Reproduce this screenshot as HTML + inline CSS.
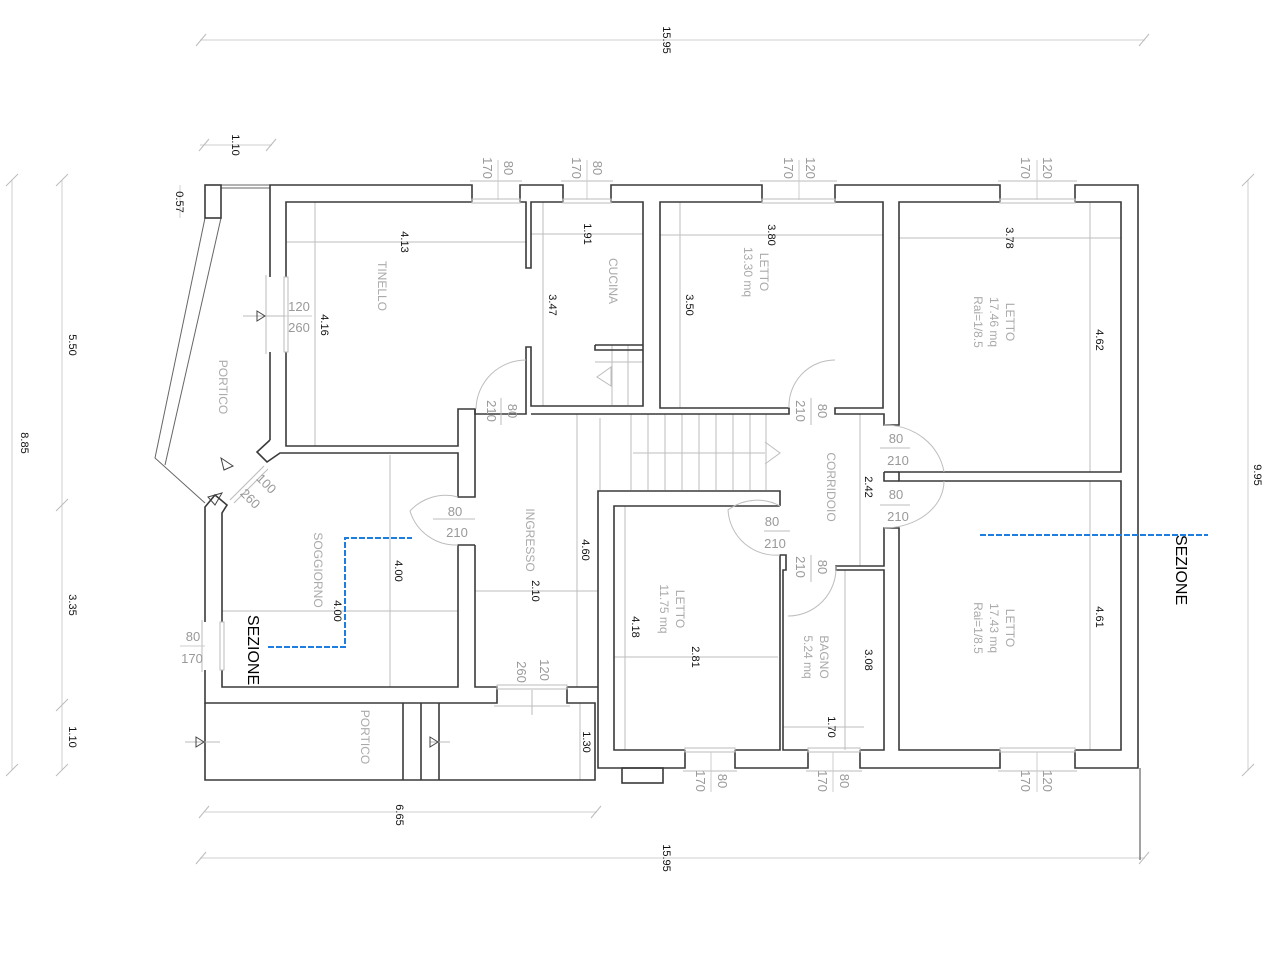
<!DOCTYPE html>
<html><head><meta charset="utf-8"><style>
html,body{margin:0;padding:0;background:#fff;}
svg{display:block;}
.w{fill:none;stroke:#3a3a3a;stroke-width:1.6;}
.d{fill:none;stroke:#cfcfcf;stroke-width:1;}
.g{fill:none;stroke:#bdbdbd;stroke-width:1;}
.dim{font-family:"Liberation Sans",sans-serif;font-size:11px;fill:#111;}
.lab{font-family:"Liberation Sans",sans-serif;font-size:12px;fill:#aaa;}
.dl{font-family:"Liberation Sans",sans-serif;font-size:13px;fill:#999;}
.sez{font-family:"Liberation Sans",sans-serif;font-size:16px;fill:#000;}
</style></head><body>
<svg width="1280" height="960" viewBox="0 0 1280 960" xmlns="http://www.w3.org/2000/svg">
<!-- overall dimension lines -->
<g class="d">
<line x1="200" y1="40" x2="1145" y2="40"/><line x1="200" y1="858" x2="1145" y2="858"/>
<line x1="12" y1="180" x2="12" y2="770"/><line x1="62" y1="180" x2="62" y2="770"/>
<line x1="1248" y1="180" x2="1248" y2="770"/>
<line x1="200" y1="145" x2="272" y2="145"/>
<line x1="205" y1="812" x2="597" y2="812"/>
<line x1="180" y1="185" x2="180" y2="218"/>
</g>
<g stroke="#bbb" stroke-width="1">
<line x1="196" y1="46" x2="206" y2="34"/><line x1="1139" y1="46" x2="1149" y2="34"/>
<line x1="196" y1="864" x2="206" y2="852"/><line x1="1139" y1="864" x2="1149" y2="852"/>
<line x1="6" y1="186" x2="18" y2="174"/><line x1="6" y1="776" x2="18" y2="764"/>
<line x1="56" y1="186" x2="68" y2="174"/><line x1="56" y1="511" x2="68" y2="499"/><line x1="56" y1="711" x2="68" y2="699"/><line x1="56" y1="776" x2="68" y2="764"/>
<line x1="1242" y1="186" x2="1254" y2="174"/><line x1="1242" y1="776" x2="1254" y2="764"/>
<line x1="199" y1="151" x2="209" y2="139"/><line x1="266" y1="151" x2="276" y2="139"/>
<line x1="199" y1="818" x2="209" y2="806"/><line x1="591" y1="818" x2="601" y2="806"/>
</g>
<line x1="1140" y1="768" x2="1140" y2="860" stroke="#444" stroke-width="1"/>
<!-- interior dimension lines -->
<g class="g">
<line x1="286" y1="242" x2="527" y2="242"/><line x1="315" y1="202" x2="315" y2="446"/>
<line x1="531" y1="234" x2="643" y2="234"/><line x1="543" y1="202" x2="543" y2="406"/>
<line x1="660" y1="235" x2="883" y2="235"/><line x1="680" y1="202" x2="680" y2="408"/>
<line x1="899" y1="238" x2="1121" y2="238"/><line x1="1090" y1="202" x2="1090" y2="472"/>
<line x1="860" y1="414" x2="860" y2="566"/>
<line x1="390" y1="455" x2="390" y2="687"/><line x1="222" y1="611" x2="458" y2="611"/>
<line x1="475" y1="591" x2="598" y2="591"/><line x1="577" y1="414" x2="577" y2="687"/>
<line x1="614" y1="657" x2="778" y2="657"/><line x1="625" y1="506" x2="625" y2="750"/>
<line x1="783" y1="727" x2="864" y2="727"/><line x1="845" y1="570" x2="845" y2="750"/>
<line x1="1090" y1="481" x2="1090" y2="750"/><line x1="580" y1="703" x2="580" y2="780"/>
<line x1="600" y1="418" x2="600" y2="490"/>
</g>
<!-- stairs -->
<g class="g">
<line x1="631" y1="414" x2="631" y2="490"/><line x1="648" y1="414" x2="648" y2="490"/><line x1="665" y1="414" x2="665" y2="490"/><line x1="682" y1="414" x2="682" y2="490"/><line x1="699" y1="414" x2="699" y2="490"/><line x1="716" y1="414" x2="716" y2="490"/><line x1="733" y1="414" x2="733" y2="490"/><line x1="750" y1="414" x2="750" y2="490"/><line x1="766" y1="414" x2="766" y2="490"/>
<line x1="633" y1="453" x2="765" y2="453"/><polyline points="765,442 780,453 765,464"/>
<line x1="595" y1="362" x2="643" y2="362"/><line x1="612" y1="345" x2="612" y2="405"/><line x1="628" y1="345" x2="628" y2="405"/>
<polygon points="611,367 597,377 611,386"/>
</g>
<!-- left portico lines -->
<g stroke="#666" stroke-width="1" fill="none">
<polyline points="205,218 155,458 205,503"/>
<polyline points="221,218 165,465"/>
<line x1="221" y1="185" x2="270" y2="185"/><line x1="221" y1="188" x2="270" y2="188"/>
</g>
<!-- walls -->
<g class="w">
<rect x="205" y="185" width="16" height="33"/>
<!-- outer top -->
<polyline points="270,440 270,352"/><polyline points="270,277 270,185 472,185 472,202"/>
<polyline points="520,202 520,185 563,185 563,202"/>
<polyline points="611,202 611,185 762,185 762,202"/>
<polyline points="835,202 835,185 1000,185 1000,202"/>
<polyline points="1075,202 1075,185 1138,185 1138,768 1075,768 1075,750"/>
<polyline points="1000,750 1000,768 860,768 860,750"/>
<polyline points="808,750 808,768 735,768 735,750"/>
<polyline points="685,750 685,768 598,768 598,491 780,491 780,506"/>
<rect x="622" y="768" width="41" height="15"/>
<!-- tinello -->
<polyline points="286,277 286,202 472,202"/><polyline points="520,202 526,202 526,268 531,268 531,202 563,202"/>
<polyline points="286,352 286,446 458,446 458,409 475,409 475,414 526,414 526,347 531,347 531,406 643,406 643,202 611,202"/>
<polyline points="270,440 257,452 267,462 280,453 458,453 458,497 475,497 475,409"/>
<polyline points="595,345 643,345"/><polyline points="595,345 595,350 643,350"/>
<!-- letto 13.30 -->
<polyline points="762,202 660,202 660,408 789,408 789,414 531,414"/>
<polyline points="835,202 883,202 883,408 835,408 835,414 884,414 884,425 899,425 899,202 1000,202"/>
<polyline points="1075,202 1121,202 1121,472 899,472 899,481 1121,481 1121,750 1075,750"/>
<polyline points="884,472 899,472"/><polyline points="884,472 884,481 899,481"/>
<polyline points="1000,750 899,750 899,528 884,528 884,566 836,566 836,570 884,570 884,750 860,750"/>
<polyline points="808,750 783,750 783,570 786,570 786,555 780,555 780,750 735,750"/>
<polyline points="685,750 614,750 614,506 780,506"/>
<!-- soggiorno / ingresso -->
<polyline points="475,545 475,687 497,687 497,703 205,703 205,670"/>
<polyline points="205,622 205,507 215,495 227,505 222,513 222,622"/>
<polyline points="222,670 222,687 458,687 458,545 475,545"/>
<polyline points="567,687 598,687"/><polyline points="567,687 567,703 595,703 595,780 205,780 205,703"/>
<line x1="403" y1="703" x2="403" y2="780"/><line x1="421" y1="703" x2="421" y2="780"/><line x1="439" y1="703" x2="439" y2="780"/>
</g>
<!-- windows -->
<g fill="none" stroke="#bbb" stroke-width="1">
<rect x="472" y="199" width="48" height="4"/><rect x="563" y="199" width="48" height="4"/>
<rect x="762" y="199" width="73" height="4"/><rect x="1000" y="199" width="75" height="4"/>
<rect x="685" y="748" width="50" height="4"/><rect x="808" y="748" width="52" height="4"/><rect x="1000" y="748" width="75" height="4"/>
<rect x="497" y="685" width="70" height="4"/>
<rect x="284" y="277" width="4" height="75"/><rect x="220" y="622" width="4" height="48"/>
<line x1="470" y1="181" x2="522" y2="181"/><line x1="561" y1="181" x2="613" y2="181"/><line x1="760" y1="181" x2="837" y2="181"/><line x1="998" y1="181" x2="1077" y2="181"/>
<line x1="683" y1="771" x2="737" y2="771"/><line x1="806" y1="771" x2="862" y2="771"/><line x1="998" y1="771" x2="1077" y2="771"/>
<line x1="266" y1="275" x2="266" y2="354"/><line x1="202" y1="620" x2="202" y2="672"/>
<line x1="494" y1="706" x2="570" y2="706"/>
<line x1="230" y1="500" x2="264" y2="466"/><line x1="234" y1="503" x2="268" y2="469"/>
<line x1="243" y1="316" x2="300" y2="316"/><line x1="185" y1="742" x2="220" y2="742"/><line x1="430" y1="742" x2="450" y2="742"/>
<line x1="532" y1="690" x2="532" y2="715"/>
</g>
<g fill="none" stroke="#444" stroke-width="1">
<polygon points="257,311 265,316 257,321"/><polygon points="196,737 204,742 196,747"/><polygon points="430,737 438,742 430,747"/>
<polygon points="221,458 233,466 224,470"/><polygon points="208,497 222,493 215,505"/>
</g>
<!-- door arcs -->
<g class="g">
<path d="M526,360 A50,50 0 0 0 476,409"/><path d="M835,360 A46,46 0 0 0 789,408"/>
<path d="M884,425 A60,55 0 0 1 944,472"/><path d="M884,528 A60,47 0 0 0 944,481"/>
<path d="M458,497 A48,48 0 0 0 410,511 A48,48 0 0 0 458,545"/>
<path d="M780,506 A48,48 0 0 0 728,510 A48,48 0 0 0 780,555"/>
<path d="M836,566 A48,48 0 0 1 788,616"/>
<line x1="433" y1="519" x2="475" y2="519"/><line x1="764" y1="531" x2="790" y2="531"/>
<line x1="880" y1="448" x2="910" y2="448"/><line x1="880" y1="505" x2="910" y2="505"/>
<line x1="501" y1="398" x2="501" y2="425"/><line x1="811" y1="398" x2="811" y2="425"/><line x1="811" y1="555" x2="811" y2="582"/>
</g>
<!-- blue section lines -->
<g stroke="#1e7ee0" stroke-width="2" stroke-dasharray="6,2" fill="none">
<polyline points="268,647 345,647 345,538 412,538"/>
<line x1="980" y1="535" x2="1208" y2="535"/>
</g>
<!-- rotated texts -->
<g class="dim" text-anchor="middle">
<text transform="translate(667,40) rotate(90)" dy="4">15.95</text>
<text transform="translate(667,858) rotate(90)" dy="4">15.95</text>
<text transform="translate(25,443) rotate(90)" dy="4">8.85</text>
<text transform="translate(73,345) rotate(90)" dy="4">5.50</text>
<text transform="translate(73,605) rotate(90)" dy="4">3.35</text>
<text transform="translate(73,737) rotate(90)" dy="4">1.10</text>
<text transform="translate(1258,475) rotate(90)" dy="4">9.95</text>
<text transform="translate(236,145) rotate(90)" dy="4">1.10</text>
<text transform="translate(180,202) rotate(90)" dy="4">0.57</text>
<text transform="translate(400,815) rotate(90)" dy="4">6.65</text>
<text transform="translate(405,242) rotate(90)" dy="4">4.13</text>
<text transform="translate(325,325) rotate(90)" dy="4">4.16</text>
<text transform="translate(588,234) rotate(90)" dy="4">1.91</text>
<text transform="translate(553,305) rotate(90)" dy="4">3.47</text>
<text transform="translate(772,235) rotate(90)" dy="4">3.80</text>
<text transform="translate(690,305) rotate(90)" dy="4">3.50</text>
<text transform="translate(1010,238) rotate(90)" dy="4">3.78</text>
<text transform="translate(1100,340) rotate(90)" dy="4">4.62</text>
<text transform="translate(869,487) rotate(90)" dy="4">2.42</text>
<text transform="translate(399,571) rotate(90)" dy="4">4.00</text>
<text transform="translate(338,611) rotate(90)" dy="4">4.00</text>
<text transform="translate(536,591) rotate(90)" dy="4">2.10</text>
<text transform="translate(586,550) rotate(90)" dy="4">4.60</text>
<text transform="translate(636,627) rotate(90)" dy="4">4.18</text>
<text transform="translate(696,657) rotate(90)" dy="4">2.81</text>
<text transform="translate(869,660) rotate(90)" dy="4">3.08</text>
<text transform="translate(832,727) rotate(90)" dy="4">1.70</text>
<text transform="translate(587,742) rotate(90)" dy="4">1.30</text>
<text transform="translate(1100,617) rotate(90)" dy="4">4.61</text>
</g>
<g class="lab" text-anchor="middle">
<text transform="translate(382,286) rotate(90)" dy="4">TINELLO</text>
<text transform="translate(613,281) rotate(90)" dy="4">CUCINA</text>
<text transform="translate(752,272) rotate(90)"><tspan x="0" dy="-8">LETTO</tspan><tspan x="0" dy="16">13.30 mq</tspan></text>
<text transform="translate(990,322) rotate(90)"><tspan x="0" dy="-16">LETTO</tspan><tspan x="0" dy="16">17.46 mq</tspan><tspan x="0" dy="16">Rai=1/8.5</tspan></text>
<text transform="translate(223,387) rotate(90)" dy="4">PORTICO</text>
<text transform="translate(831,487) rotate(90)" dy="4">CORRIDOIO</text>
<text transform="translate(530,540) rotate(90)" dy="4">INGRESSO</text>
<text transform="translate(318,570) rotate(90)" dy="4">SOGGIORNO</text>
<text transform="translate(668,609) rotate(90)"><tspan x="0" dy="-8">LETTO</tspan><tspan x="0" dy="16">11.75 mq</tspan></text>
<text transform="translate(812,657) rotate(90)"><tspan x="0" dy="-8">BAGNO</tspan><tspan x="0" dy="16">5.24 mq</tspan></text>
<text transform="translate(990,628) rotate(90)"><tspan x="0" dy="-16">LETTO</tspan><tspan x="0" dy="16">17.43 mq</tspan><tspan x="0" dy="16">Rai=1/8.5</tspan></text>
<text transform="translate(365,737) rotate(90)" dy="4">PORTICO</text>
</g>
<g class="dl" text-anchor="middle">
<text x="299" y="311">120</text><text x="299" y="332">260</text>
<text x="455" y="516">80</text><text x="457" y="537">210</text>
<text x="896" y="443">80</text><text x="898" y="465">210</text>
<text x="896" y="499">80</text><text x="898" y="521">210</text>
<text x="772" y="526">80</text><text x="775" y="548">210</text>
<text x="193" y="641">80</text><text x="192" y="663">170</text>
<text transform="translate(491,411) rotate(90)" dy="4">210</text><text transform="translate(512,411) rotate(90)" dy="4">80</text>
<text transform="translate(800,411) rotate(90)" dy="4">210</text><text transform="translate(822,411) rotate(90)" dy="4">80</text>
<text transform="translate(800,567) rotate(90)" dy="4">210</text><text transform="translate(822,567) rotate(90)" dy="4">80</text>
<text transform="translate(521,672) rotate(90)" dy="4">260</text><text transform="translate(544,670) rotate(90)" dy="4">120</text>
<text transform="translate(250,499) rotate(45)" dy="4">260</text><text transform="translate(266,484) rotate(45)" dy="4">100</text>
<text transform="translate(487,168) rotate(90)" dy="4">170</text><text transform="translate(508,168) rotate(90)" dy="4">80</text>
<text transform="translate(576,168) rotate(90)" dy="4">170</text><text transform="translate(597,168) rotate(90)" dy="4">80</text>
<text transform="translate(788,168) rotate(90)" dy="4">170</text><text transform="translate(810,168) rotate(90)" dy="4">120</text>
<text transform="translate(1025,168) rotate(90)" dy="4">170</text><text transform="translate(1047,168) rotate(90)" dy="4">120</text>
<text transform="translate(700,781) rotate(90)" dy="4">170</text><text transform="translate(722,781) rotate(90)" dy="4">80</text>
<text transform="translate(822,781) rotate(90)" dy="4">170</text><text transform="translate(844,781) rotate(90)" dy="4">80</text>
<text transform="translate(1025,781) rotate(90)" dy="4">170</text><text transform="translate(1047,781) rotate(90)" dy="4">120</text>
</g>
<g stroke="#ccc"><line x1="498" y1="160" x2="498" y2="200"/><line x1="587" y1="160" x2="587" y2="200"/><line x1="799" y1="160" x2="799" y2="200"/><line x1="1037" y1="160" x2="1037" y2="200"/><line x1="711" y1="752" x2="711" y2="792"/><line x1="833" y1="752" x2="833" y2="792"/><line x1="1037" y1="752" x2="1037" y2="792"/><line x1="285" y1="316" x2="312" y2="316"/><line x1="180" y1="646" x2="205" y2="646"/></g>
<g class="sez" text-anchor="middle">
<text transform="translate(254,650) rotate(90)" dy="6">SEZIONE</text>
<text transform="translate(1182,570) rotate(90)" dy="6">SEZIONE</text>
</g>
</svg>
</body></html>
